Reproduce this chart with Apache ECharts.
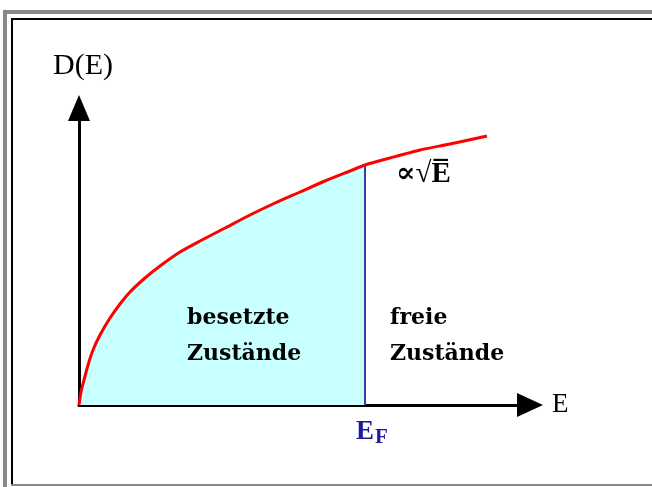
<!DOCTYPE html>
<html>
<head>
<meta charset="utf-8">
<script src="https://cdn.jsdelivr.net/npm/echarts@6/dist/echarts.min.js"></script>
<style>
  html, body { margin: 0; padding: 0; background: #fff; }
  #chart { width: 652px; height: 487px; }
</style>
</head>
<body>
<div id="chart"></div>
<script>
// Zustandsdichte D(E) ~ sqrt(E)
var energie = [0, 2, 5, 9, 14, 21, 31, 41, 51, 66, 81, 101, 121, 146, 171, 196, 221, 246, 271, 286, 311, 341, 371, 408];
var dichte  = [0, 13, 25, 40, 55, 70, 87, 101, 113, 127, 139, 153, 164, 177, 190, 202, 213, 224, 234, 240, 247, 255, 261, 269];
var fermi = 286;          // E_F
var fermiHoehe = 240;     // D(E_F)
var xMax = 451, yMax = 297;

var kurve = [];
var besetzt = [];
for (var i = 0; i < energie.length; i++) {
  kurve.push([energie[i], dichte[i]]);
  if (energie[i] <= fermi) besetzt.push([energie[i], dichte[i]]);
}

var serif = 'Liberation Serif, DejaVu Serif, serif';
var chart = echarts.init(document.getElementById('chart'));
var option = {
  backgroundColor: '#ffffff',
  animation: false,
  grid: { left: 79, top: 108, right: 122, bottom: 82 },
  xAxis: {
    type: 'value', min: 0, max: xMax,
    name: 'E', nameLocation: 'end', nameGap: 22,
    nameTextStyle: { fontFamily: serif, fontSize: 27, color: '#000', verticalAlign: 'middle' },
    axisLine: { onZero: false, lineStyle: { color: '#000', width: 3 },
      symbol: ['none', 'triangle'], symbolSize: [24, 26] },
    axisTick: { show: false }, axisLabel: { show: false }, splitLine: { show: false }
  },
  yAxis: {
    type: 'value', min: 0, max: yMax,
    name: 'D(E)', nameLocation: 'end', nameGap: 27,
    nameTextStyle: { fontFamily: serif, fontSize: 30, color: '#000', align: 'center', padding: [0, 0, 0, 8] },
    axisLine: { onZero: false, lineStyle: { color: '#000', width: 3 },
      symbol: ['none', 'triangle'], symbolSize: [22, 26] },
    axisTick: { show: false }, axisLabel: { show: false }, splitLine: { show: false }
  },
  series: [
    {
      name: 'besetzt', type: 'line', data: besetzt, symbol: 'none', smooth: 0.2,
      lineStyle: { width: 0, opacity: 0 },
      areaStyle: { color: '#c8ffff', opacity: 1 }, z: 1
    },
    {
      name: 'EF', type: 'line', data: [[fermi, 0], [fermi, fermiHoehe]], symbol: 'none',
      lineStyle: { color: '#3c3ca8', width: 2 }, z: 2
    },
    {
      name: 'D(E)', type: 'line', data: kurve, symbol: 'none', smooth: 0.2,
      lineStyle: { color: '#ff0000', width: 3 }, z: 3
    }
  ],
  graphic: [
    // Rahmen
    { type: 'rect', shape: { x: 3, y: 10, width: 4, height: 477 }, style: { fill: '#888' }, silent: true },
    { type: 'rect', shape: { x: 3, y: 10, width: 649, height: 4 }, style: { fill: '#888' }, silent: true },
    { type: 'rect', shape: { x: 11, y: 18, width: 2, height: 467 }, style: { fill: '#000' }, silent: true },
    { type: 'rect', shape: { x: 11, y: 18, width: 641, height: 2 }, style: { fill: '#000' }, silent: true },
    { type: 'rect', shape: { x: 11, y: 484, width: 641, height: 2 }, style: { fill: '#888' }, silent: true },
    // Beschriftungen
    { type: 'text', left: 396, top: 160, z: 10, style: {
        text: '∝√E\u0305', font: 'bold 29px ' + serif, fill: '#000' } },
    { type: 'text', left: 187, top: 300, z: 10, style: {
        text: 'besetzte\nZustände', font: 'bold 22px DejaVu Serif, serif', lineHeight: 36, fill: '#000' } },
    { type: 'text', left: 390, top: 300, z: 10, style: {
        text: 'freie\nZustände', font: 'bold 22px DejaVu Serif, serif', lineHeight: 36, fill: '#000' } },
    { type: 'text', left: 356, top: 419, z: 10, style: {
        text: '{a|E}{b|F}', fill: '#1c1c9c',
        rich: {
          a: { fontFamily: serif, fontWeight: 'bold', fontSize: 27, fill: '#1c1c9c' },
          b: { fontFamily: serif, fontWeight: 'bold', fontSize: 21, fill: '#1c1c9c', padding: [11, 0, 0, 1] }
        } } }
  ]
};
chart.setOption(option);
</script>
</body>
</html>
